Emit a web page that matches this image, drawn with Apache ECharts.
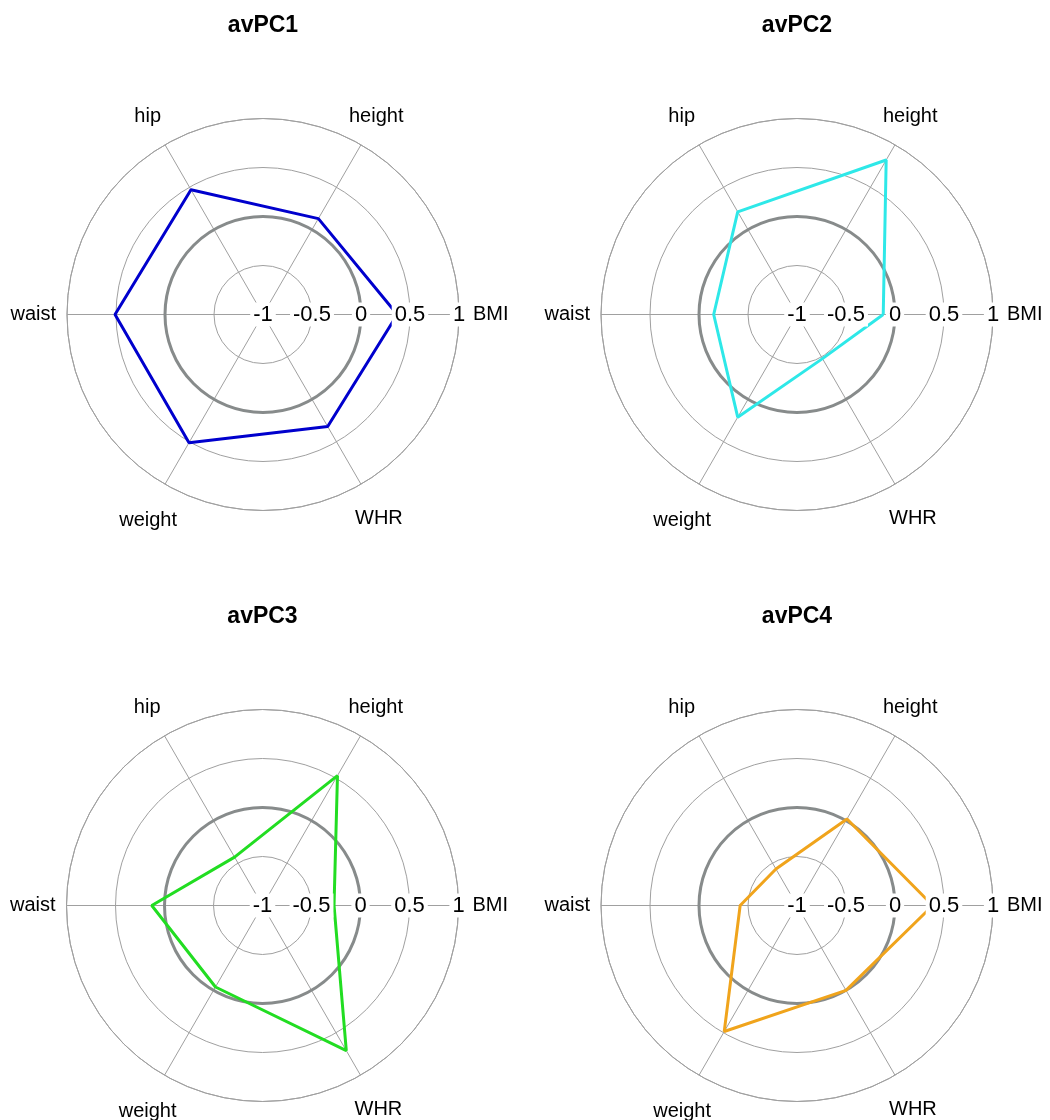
<!DOCTYPE html>
<html>
<head>
<meta charset="utf-8">
<script src="https://cdn.jsdelivr.net/npm/echarts@6/dist/echarts.min.js"></script>
<style>
html,body{margin:0;padding:0;background:#ffffff;}
#chart{width:1050px;height:1120px;}
</style>
</head>
<body>
<div id="chart"></div>
<script>
// ---- data ----
const categories = ['BMI', 'height', 'hip', 'waist', 'weight', 'WHR'];
const titles = ['avPC1', 'avPC2', 'avPC3', 'avPC4'];
const avPC1 = [0.37, 0.13, 0.47, 0.51, 0.51, 0.32];
const avPC2 = [-0.12, 0.82, 0.21, -0.15, 0.21, -0.48];
const avPC3 = [-0.27, 0.53, -0.43, 0.13, -0.04, 0.71];
const avPC4 = [0.385, 0.02, -0.57, -0.42, 0.485, 0.0];
const radialTicks = [-1, -0.5, 0, 0.5, 1];

// ---- styling / layout ----
const seriesValues = [avPC1, avPC2, avPC3, avPC4];
const colors = ['#0000CD', '#2EE8E8', '#22DD22', '#F0A41C'];
const centers = [[263, 314.5], [797, 314.5], [262.5, 905.5], [797, 905.5]];
const R = 196;
const FONT = "'Liberation Sans', Arial, sans-serif";
const thin = '#a0a0a0';
// label box paddings [top, right, bottom, left] so names sit centred outside the outer ring
const labelPad = {
  BMI: [4, 0, 0, 50], height: [0, 0, 49, 6], hip: [0, 22, 49, 0],
  waist: [0, 47, 0, 0], weight: [57, 6, 0, 0], WHR: [55, 0, 0, 12]
};

const polar = [], angleAxis = [], radiusAxis = [], series = [], title = [];

seriesValues.forEach(function (vals, i) {
  const c = centers[i];
  const base = i * 3;
  // main polar: spokes, rings, category names
  polar.push({ center: c, radius: R });
  angleAxis.push({
    polarIndex: base, type: 'category',
    data: categories.map(function (name) {
      return { value: name, textStyle: { padding: labelPad[name] } };
    }),
    startAngle: -30, clockwise: false, boundaryGap: true,
    axisLine: { show: true, lineStyle: { color: thin, width: 1 } },
    axisTick: { show: false, alignWithLabel: true },
    splitLine: { show: true, lineStyle: { color: thin, width: 1 } },
    axisLabel: { show: true, margin: -36, fontSize: 20, color: '#000', fontFamily: FONT }
  });
  radiusAxis.push({
    polarIndex: base, type: 'value', min: radialTicks[0], max: radialTicks[radialTicks.length - 1],
    interval: 0.5,
    axisLine: { show: false }, axisTick: { show: false }, axisLabel: { show: false },
    splitLine: { show: true, lineStyle: { color: thin, width: 1 } }
  });
  // zero ring polar (value 0 lies at half radius)
  polar.push({ center: c, radius: R / 2 });
  angleAxis.push({
    polarIndex: base + 1, type: 'value', min: 0, max: 360, startAngle: 0,
    axisLine: { show: true, lineStyle: { color: '#878b8b', width: 3 } },
    axisTick: { show: false }, axisLabel: { show: false }, splitLine: { show: false }
  });
  radiusAxis.push({ polarIndex: base + 1, type: 'value', min: -1, max: 0, show: false });
  // value labels polar (on top)
  polar.push({ center: c, radius: R });
  angleAxis.push({ polarIndex: base + 2, type: 'value', min: 0, max: 360, startAngle: 0, show: false });
  radiusAxis.push({
    polarIndex: base + 2, type: 'value', z: 10,
    min: radialTicks[0], max: radialTicks[radialTicks.length - 1], interval: 0.5,
    axisLine: { show: false }, axisTick: { show: false }, splitLine: { show: false },
    axisLabel: { show: true, margin: 0, align: 'center', verticalAlign: 'middle',
      fontSize: 22, color: '#000', fontFamily: FONT,
      backgroundColor: '#ffffff', padding: [1, 3, 1, 3],
      formatter: function (v) { return String(v); } }
  });

  const data = categories.map(function (name, k) { return [vals[k], k]; });
  data.push([vals[0], 0]);
  series.push({
    type: 'line', coordinateSystem: 'polar', polarIndex: base,
    data: data, symbol: 'none', smooth: false, clip: false,
    lineStyle: { color: colors[i], width: 3 }, z: 5, silent: true
  });

  title.push({
    text: titles[i], left: c[0], top: c[1] - 300, textAlign: 'center', padding: 0,
    textStyle: { fontSize: 23, fontWeight: 'bold', color: '#000', fontFamily: FONT }
  });
});

const chart = echarts.init(document.getElementById('chart'), null, { renderer: 'canvas' });
chart.setOption({
  backgroundColor: '#ffffff',
  animation: false,
  title: title,
  polar: polar,
  angleAxis: angleAxis,
  radiusAxis: radiusAxis,
  series: series
});
</script>
</body>
</html>
